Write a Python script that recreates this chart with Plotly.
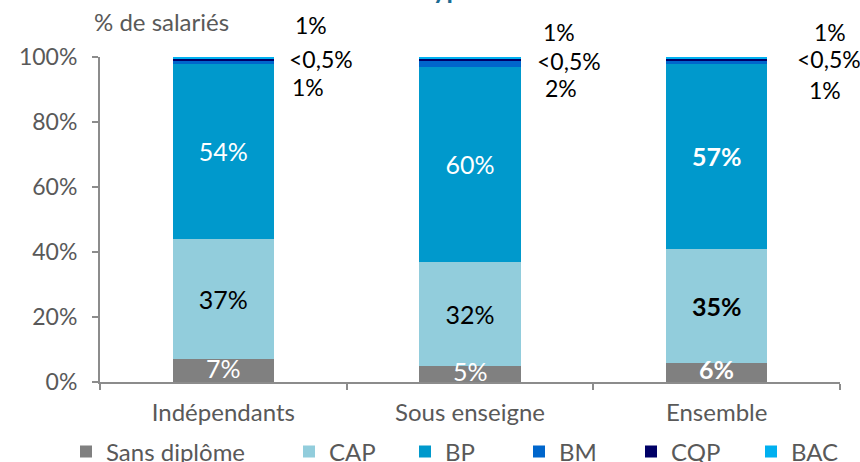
import plotly.graph_objects as go

# Salariés par type de diplôme, en % (structures indépendantes, sous enseigne, ensemble)
categories = ["Indépendants", "Sous enseigne", "Ensemble"]
series_names = ["Sans diplôme", "CAP", "BP", "BM", "CQP", "BAC"]
sans_diplome = [7, 5, 6]
cap = [37, 32, 35]
bp = [54, 60, 57]
bm = [1, 2, 1]
cqp = [0.4, 0.4, 0.4]
bac = [1, 1, 1]
bm_labels = ["1%", "2%", "1%"]
cqp_labels = ["<0,5%", "<0,5%", "<0,5%"]
bac_labels = ["1%", "1%", "1%"]
y_ticks = [0, 20, 40, 60, 80, 100]

FONT = "Lato, 'Open Sans', sans-serif"
GREY_TXT = "#595959"
AXIS = "#8c8c8c"

colors = ["#808080", "#92CDDC", "#0099CC", "#0066CC", "#000066", "#00B0F0"]
values = [sans_diplome, cap, bp, bm, cqp, bac]
legend_w = [178, 71, 69, 67, 75, 50]

# plot area in pixels: x 100..840, y 57..382
L, R, T, B = 100, 20, 57, 80
PW, PH = 860 - L - R, 462 - T - B


def dom_x(px):
    return (px - L) / PW


def dom_y(py):
    return (T + PH - py) / PH


def pct(v, bold):
    s = f"{v}%"
    return f"<b>{s}</b>" if bold else s


fig = go.Figure()
for i, (name, vals, col) in enumerate(zip(series_names, values, colors)):
    kw = {}
    if name in ("CAP", "BP"):
        txt_col = "black" if name == "CAP" else "white"
        kw = dict(
            text=[pct(v, j == 2) for j, v in enumerate(vals)],
            texttemplate="%{text}",
            textposition="inside",
            insidetextanchor="middle",
            constraintext="none",
            textfont=dict(family=FONT, size=25, color=txt_col),
        )
    fig.add_trace(go.Bar(
        name=name, x=categories, y=vals, marker=dict(color=col, line=dict(width=0)),
        width=0.41, legendwidth=legend_w[i], hoverinfo="skip", cliponaxis=False, **kw,
    ))

# "Sans diplôme" labels sit on top of the thin bottom segments
for j, (cat, v) in enumerate(zip(categories, sans_diplome)):
    fig.add_annotation(x=cat, y=v / 2, xref="x", yref="y", yshift=3, text=pct(v, j == 2),
                       showarrow=False, xanchor="center", yanchor="middle",
                       font=dict(family=FONT, size=25, color="white"))

# Small segments labelled to the right of each bar (pixel rows and offsets)
label_rows = [(bac_labels, [25, 32, 32], [293, 541, 812]),
              (cqp_labels, [59, 61, 59], [287, 535, 795]),
              (bm_labels, [87, 88, 90], [290, 543, 807])]
for labels, ys, xs in label_rows:
    for lab, py, px in zip(labels, ys, xs):
        fig.add_annotation(x=dom_x(px), y=dom_y(py), xref="x domain", yref="y domain",
                           text=lab, showarrow=False, xanchor="left", yanchor="middle",
                           font=dict(family=FONT, size=23, color="black"))

fig.add_annotation(x=dom_x(92), y=dom_y(22), xref="x domain", yref="y domain",
                   text="% de salariés", showarrow=False, xanchor="left", yanchor="middle",
                   font=dict(family=FONT, size=24, color=GREY_TXT))

# chart title, running above the top edge of the page
fig.add_annotation(x=dom_x(421), y=dom_y(7), xref="x domain", yref="y domain",
                   text="<b>type</b>", showarrow=False, xanchor="left", yanchor="bottom",
                   font=dict(family=FONT, size=26, color="#1B6C93"))

fig.update_layout(
    width=860, height=462,
    margin=dict(l=L, r=R, t=T, b=B, autoexpand=False),
    barmode="stack",
    plot_bgcolor="white", paper_bgcolor="white",
    font=dict(family=FONT, size=24, color=GREY_TXT),
    showlegend=True,
    legend=dict(orientation="h", x=dom_x(66), xanchor="left", y=dom_y(452), yanchor="middle",
                font=dict(family=FONT, size=24, color=GREY_TXT),
                traceorder="normal", itemclick=False, itemdoubleclick=False),
    uniformtext=dict(mode=False),
)
fig.update_yaxes(range=[0, 100], tickvals=y_ticks, ticktext=[f"{t}%" for t in y_ticks],
                 showgrid=False, zeroline=False, showline=True, linecolor=AXIS, linewidth=2,
                 ticks="outside", ticklen=6, tickcolor=AXIS, tickwidth=2, ticklabelstandoff=10,
                 tickfont=dict(family=FONT, size=23, color=GREY_TXT))
fig.update_xaxes(showgrid=False, showline=True, linecolor=AXIS, linewidth=2,
                 ticks="outside", tickson="boundaries", ticklen=6, tickcolor=AXIS, tickwidth=2,
                 ticklabelstandoff=8,
                 tickfont=dict(family=FONT, size=24, color=GREY_TXT))

fig.write_html("out.html")
